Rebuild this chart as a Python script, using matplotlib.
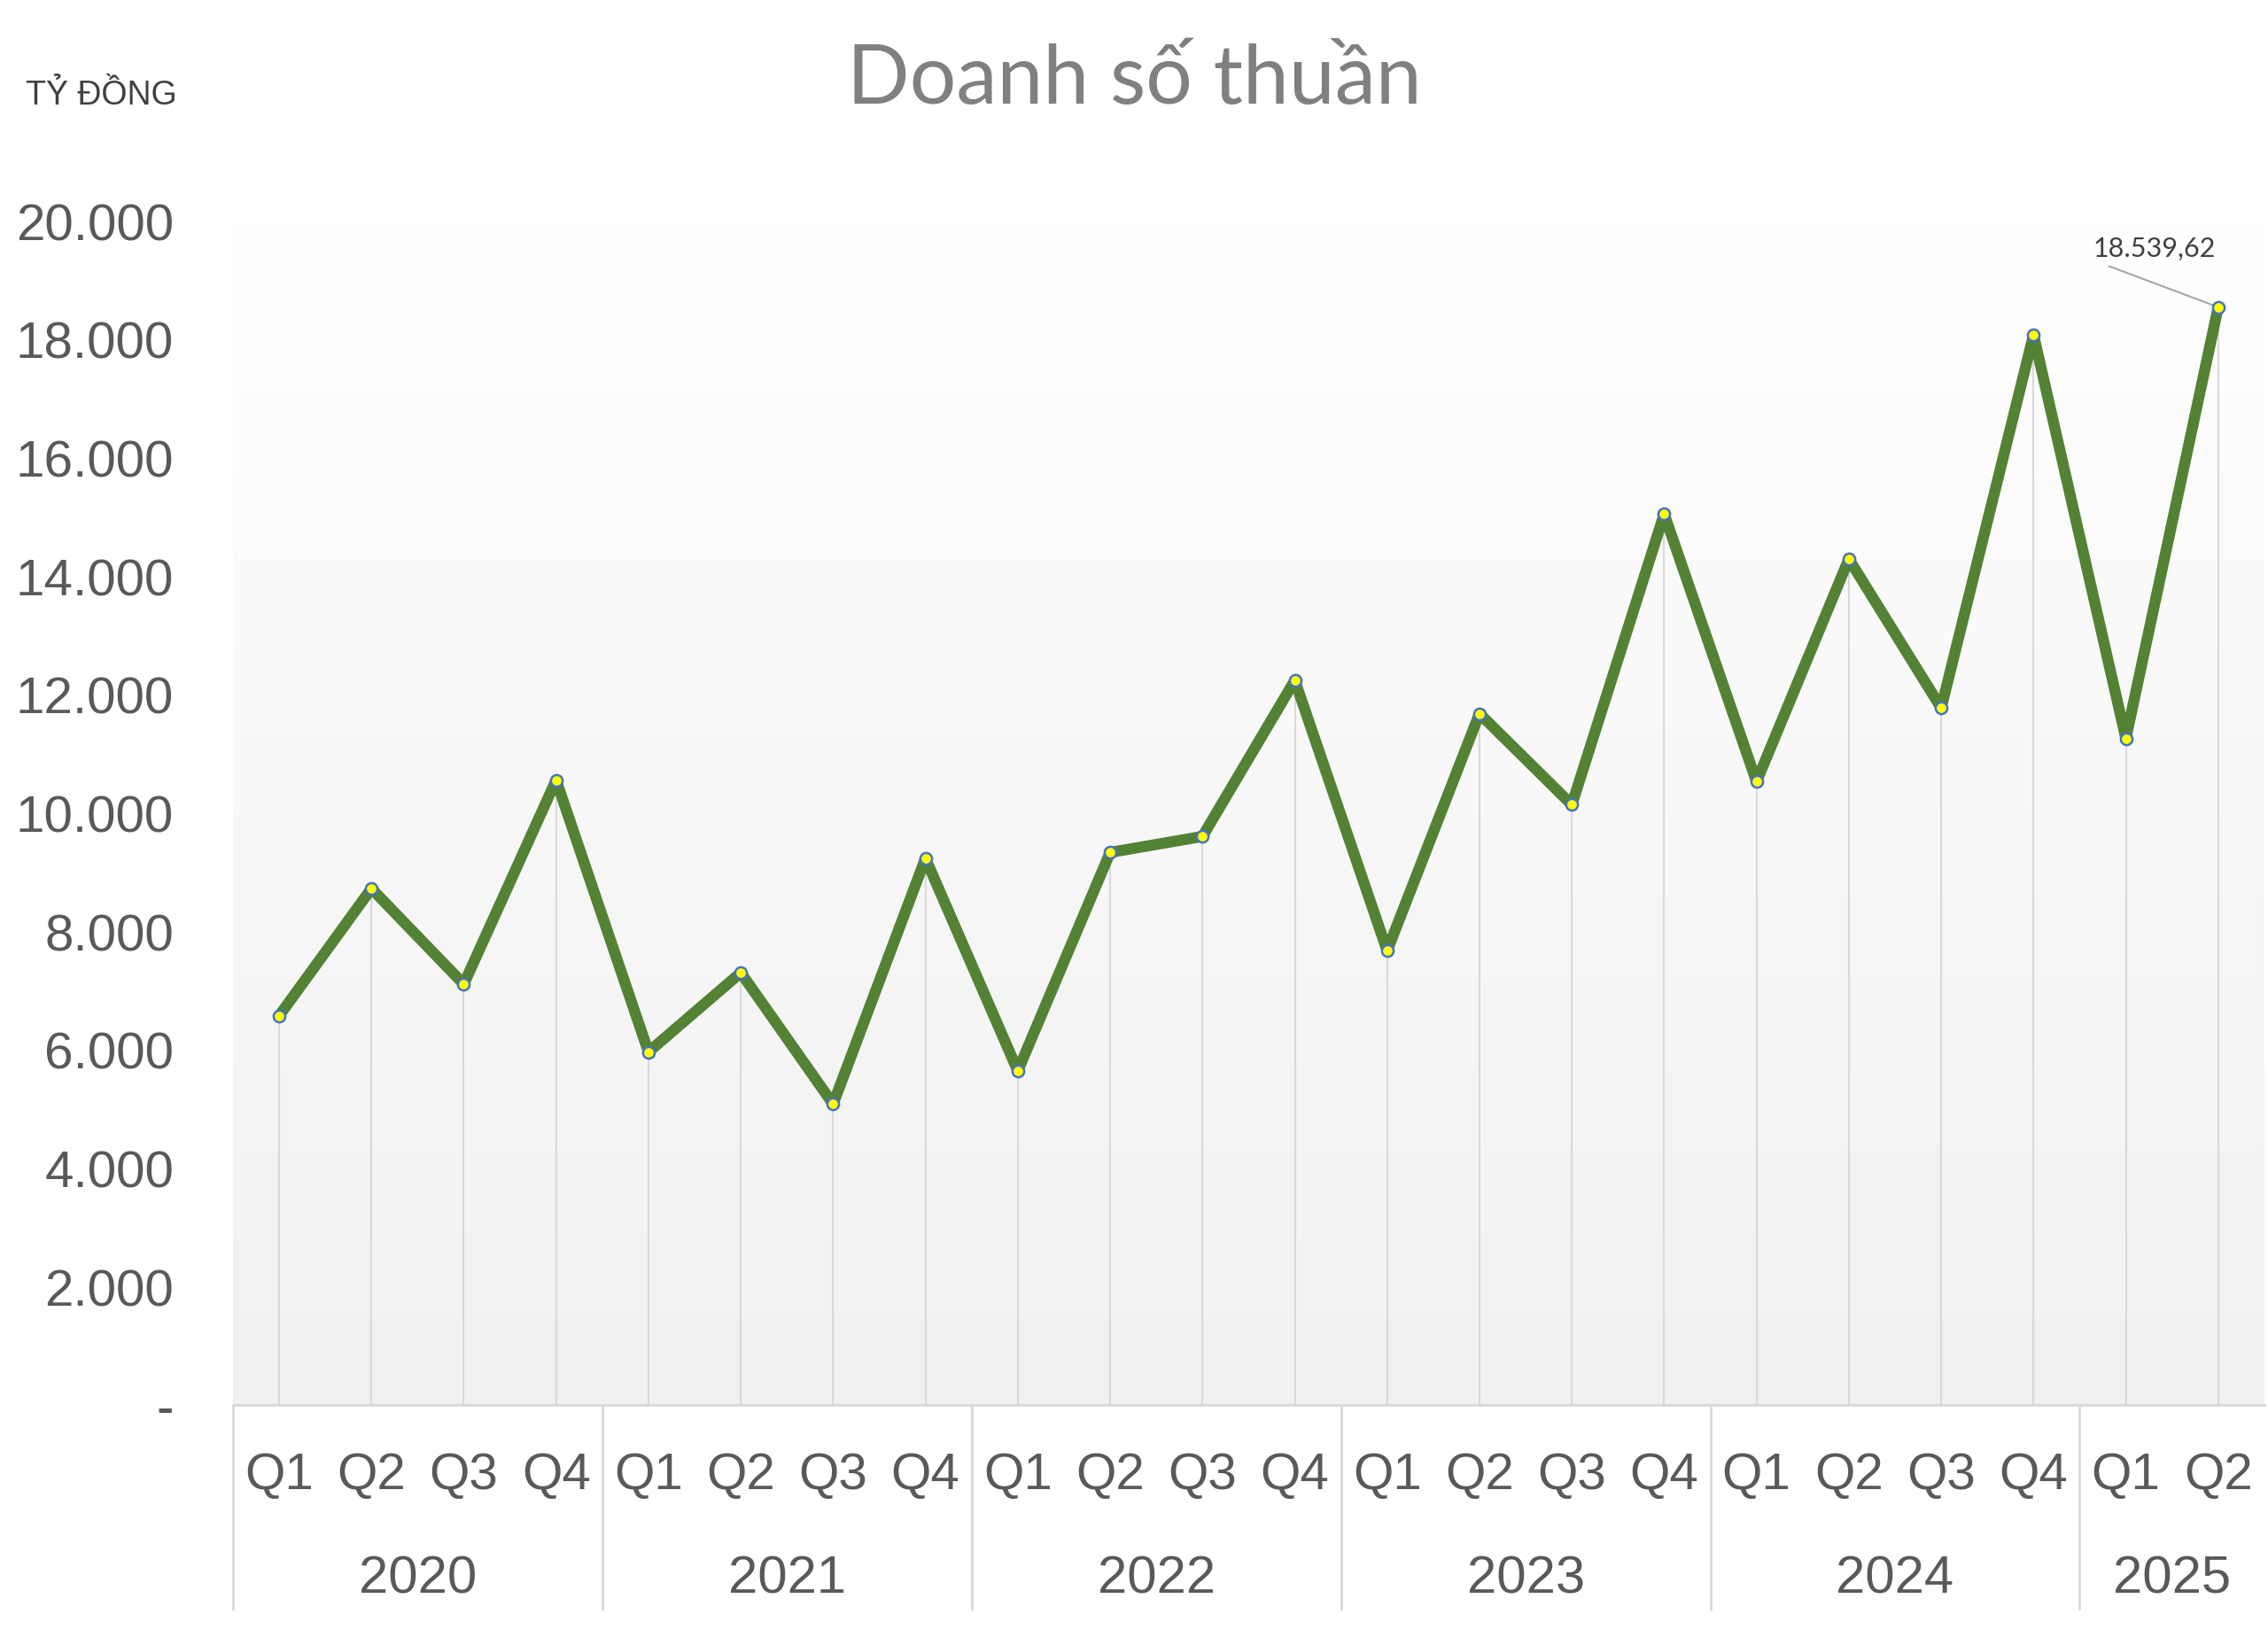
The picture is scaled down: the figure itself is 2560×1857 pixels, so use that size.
import matplotlib
matplotlib.use("Agg")
import matplotlib.pyplot as plt
import numpy as np
from matplotlib.colors import LinearSegmentedColormap

# Data (tỷ đồng)
years = ["2020", "2021", "2022", "2023", "2024", "2025"]
quarters_per_year = [4, 4, 4, 4, 4, 2]
quarter_labels = ["Q1", "Q2", "Q3", "Q4"] * 5 + ["Q1", "Q2"]
revenue = [6570, 8720, 7105, 10550,
           5960, 7300, 5080, 9230,
           5640, 9330, 9600, 12235,
           7670, 11675, 10135, 15045,
           10525, 14285, 11770, 18070,
           11255, 18539.62]
last_label = "18.539,62"

yticks = [0, 2000, 4000, 6000, 8000, 10000, 12000, 14000, 16000, 18000, 20000]

plt.rcParams['font.family'] = ['Liberation Sans', 'DejaVu Sans']
text_col = "#595959"
grid_col = "#d9d9d9"

fig = plt.figure(figsize=(25.6, 18.58), dpi=100)
ax = fig.add_axes([0.1027, 0.1459, 0.8957, 0.7195])

x = np.arange(len(revenue))
ax.set_xlim(-0.5, len(revenue) - 0.5)
ax.set_ylim(0, 20000)

# background gradient
cmap = LinearSegmentedColormap.from_list("bg", ["#f1f1f1", "#ffffff"])
grad = np.linspace(0, 1, 256).reshape(-1, 1)
ax.imshow(grad, aspect="auto", cmap=cmap, origin="lower",
          extent=[-0.5, len(revenue) - 0.5, 0, 20000], zorder=0)

# drop lines
ax.vlines(x, 0, revenue, color=grid_col, lw=1.5, zorder=1)

ax.plot(x, revenue, color="#548235", lw=9, solid_joinstyle="round",
        solid_capstyle="round", zorder=3)
ax.plot(x, revenue, ls="none", marker="o", ms=9.5, mfc="#ffff00",
        mec="#4472c4", mew=1.8, zorder=4)

# label on last point
ax.plot([x[-1] - 1.18, x[-1]], [19230, revenue[-1]], color="#a6a6a6",
        lw=1.5, zorder=2)
ax.text(x[-1] - 0.69, 19540, last_label, ha="center", va="center",
        fontsize=22, color="#404040", family=["Lato", "DejaVu Sans"])

for s in ax.spines.values():
    s.set_visible(False)

ax.set_yticks(yticks)
ax.set_yticklabels(["-" if v == 0 else f"{v:,}".replace(",", ".") for v in yticks])
ax.tick_params(axis="y", length=0, pad=48, labelsize=42, labelcolor=text_col)
ax.set_xticks([])

# category axis with two levels
ax.plot([-0.5, len(revenue) - 0.5], [0, 0], color=grid_col, lw=2,
        clip_on=False, zorder=2)
trans = ax.get_xaxis_transform()
for xi, q in zip(x, quarter_labels):
    ax.text(xi, -0.059, q, transform=trans, ha="center", va="center",
            fontsize=42, color=text_col)
start = 0
for yr, n in zip(years, quarters_per_year):
    ax.plot([start - 0.5, start - 0.5], [0, -0.172], transform=trans,
            color=grid_col, lw=2, clip_on=False)
    ax.text(start + (n - 1) / 2, -0.147, yr, transform=trans, ha="center",
            va="center", fontsize=43, color=text_col)
    start += n

fig.text(0.5, 0.951, "Doanh số thuần", ha="center", va="center",
         fontsize=67, color="#808080", family=["Lato", "DejaVu Sans"])
fig.text(0.0445, 0.9418, "TỶ ĐỒNG", ha="center", va="center",
         fontsize=27, color="#404040")

fig.savefig("out.png", dpi=100, facecolor="white")
